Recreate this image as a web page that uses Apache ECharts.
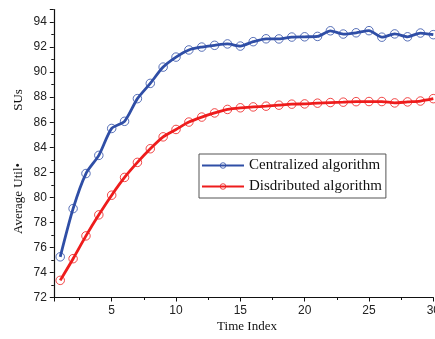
<!DOCTYPE html>
<html>
<head>
<meta charset="utf-8">
<script src="https://cdn.jsdelivr.net/npm/echarts@6/dist/echarts.min.js"></script>
<style>html,body{margin:0;padding:0;background:#fff;}#c{width:435px;height:339px;}</style>
</head>
<body>
<div id="c"></div>
<script>
const timeIndex = [1,2,3,4,5,6,7,8,9,10,11,12,13,14,15,16,17,18,19,20,21,22,23,24,25,26,27,28,29,30];
const centralized = [75.25,79.1,81.9,83.35,85.5,86.07,87.88,89.1,90.4,91.2,91.77,92.0,92.14,92.25,92.08,92.43,92.66,92.65,92.8,92.82,92.85,93.3,93.04,93.14,93.31,92.79,93.05,92.82,93.12,92.99];
const distributed = [73.37,75.1,76.92,78.6,80.17,81.59,82.79,83.88,84.83,85.42,86.01,86.41,86.74,87.02,87.15,87.22,87.28,87.36,87.44,87.46,87.52,87.57,87.6,87.64,87.65,87.65,87.54,87.62,87.69,87.88];
const seriesNames = ['Centralized algorithm','Disdributed algorithm'];
const xTitle = 'Time Index';
const yTitleA = 'Average Util\u2022';
const yTitleB = 'SUs';

const BLUE = '#2f4ea6', RED = '#ee1c1c';
const chart = echarts.init(document.getElementById('c'), null, {renderer:'canvas'});
function mk(name, vals, color){
  return {
    name, type:'line', data: timeIndex.map((t,i)=>[t, vals[i]]),
    smooth: 0.25, symbol:'circle', symbolSize: 8.5,
    color: color,
    lineStyle:{color: color, width: 2.8},
    itemStyle:{color:'rgba(255,255,255,0)', borderColor: color, borderWidth: 1, opacity: 0.8},
    emphasis:{disabled:true}, animation:false, z: 3
  };
}
const axisCommon = {
  axisLine:{show:true, lineStyle:{color:'#111', width:1.2}},
  splitLine:{show:false},
  axisTick:{show:true, inside:false, length:4, lineStyle:{color:'#111', width:1}},
  minorTick:{show:true, splitNumber:2, length:2.5, lineStyle:{color:'#111', width:1}},
  axisLabel:{color:'#222', fontFamily:'Liberation Sans, Arial, sans-serif', fontSize:12}
};
chart.setOption({
  animation:false,
  backgroundColor:'#fff',
  grid:{left:53.8, right:1.7, top:9.5, bottom:41.5, containLabel:false, outerBoundsMode:'none'},
  xAxis: Object.assign({}, axisCommon, {
    type:'value', min:0.5, max:30, minInterval:5, maxInterval:5,
    axisLabel: Object.assign({}, axisCommon.axisLabel, {margin:7, showMinLabel:true, showMaxLabel:true,
      formatter: v => (Math.abs(v%5)<1e-6 ? String(v) : '')})
  }),
  yAxis: Object.assign({}, axisCommon, {
    type:'value', min:72, max:95, interval:2,
    axisLabel: Object.assign({}, axisCommon.axisLabel, {margin:7,
      formatter: v => (v%2===0 ? String(v) : '')})
  }),
  legend:{
    show:true, orient:'vertical', left:199, top:154,
    data: seriesNames,
    backgroundColor:'#fff', borderColor:'#555', borderWidth:1, borderRadius:0,
    padding:[4,4,4,2], itemWidth:42, itemHeight:7, itemGap:6,
    textStyle:{fontFamily:'Liberation Serif, Times New Roman, serif', fontSize:15, color:'#111', lineHeight:15},
    itemStyle:{borderWidth:1}
  },
  graphic:[
    {type:'text', x:0, style:{text:xTitle, x:247, y:327, align:'center', verticalAlign:'middle',
      font:'13px "Liberation Serif", "Times New Roman", serif', fill:'#111'}},
    {type:'text', rotation:Math.PI/2, x:18.5, y:198.5, style:{text:yTitleA, x:0, y:0, align:'center', verticalAlign:'middle',
      font:'13px "Liberation Serif", "Times New Roman", serif', fill:'#111'}},
    {type:'text', rotation:Math.PI/2, x:19, y:100, style:{text:yTitleB, x:0, y:0, align:'center', verticalAlign:'middle',
      font:'13px "Liberation Serif", "Times New Roman", serif', fill:'#111'}}
  ],
  series:[mk(seriesNames[0], centralized, BLUE), mk(seriesNames[1], distributed, RED)]
});
</script>
</body>
</html>
